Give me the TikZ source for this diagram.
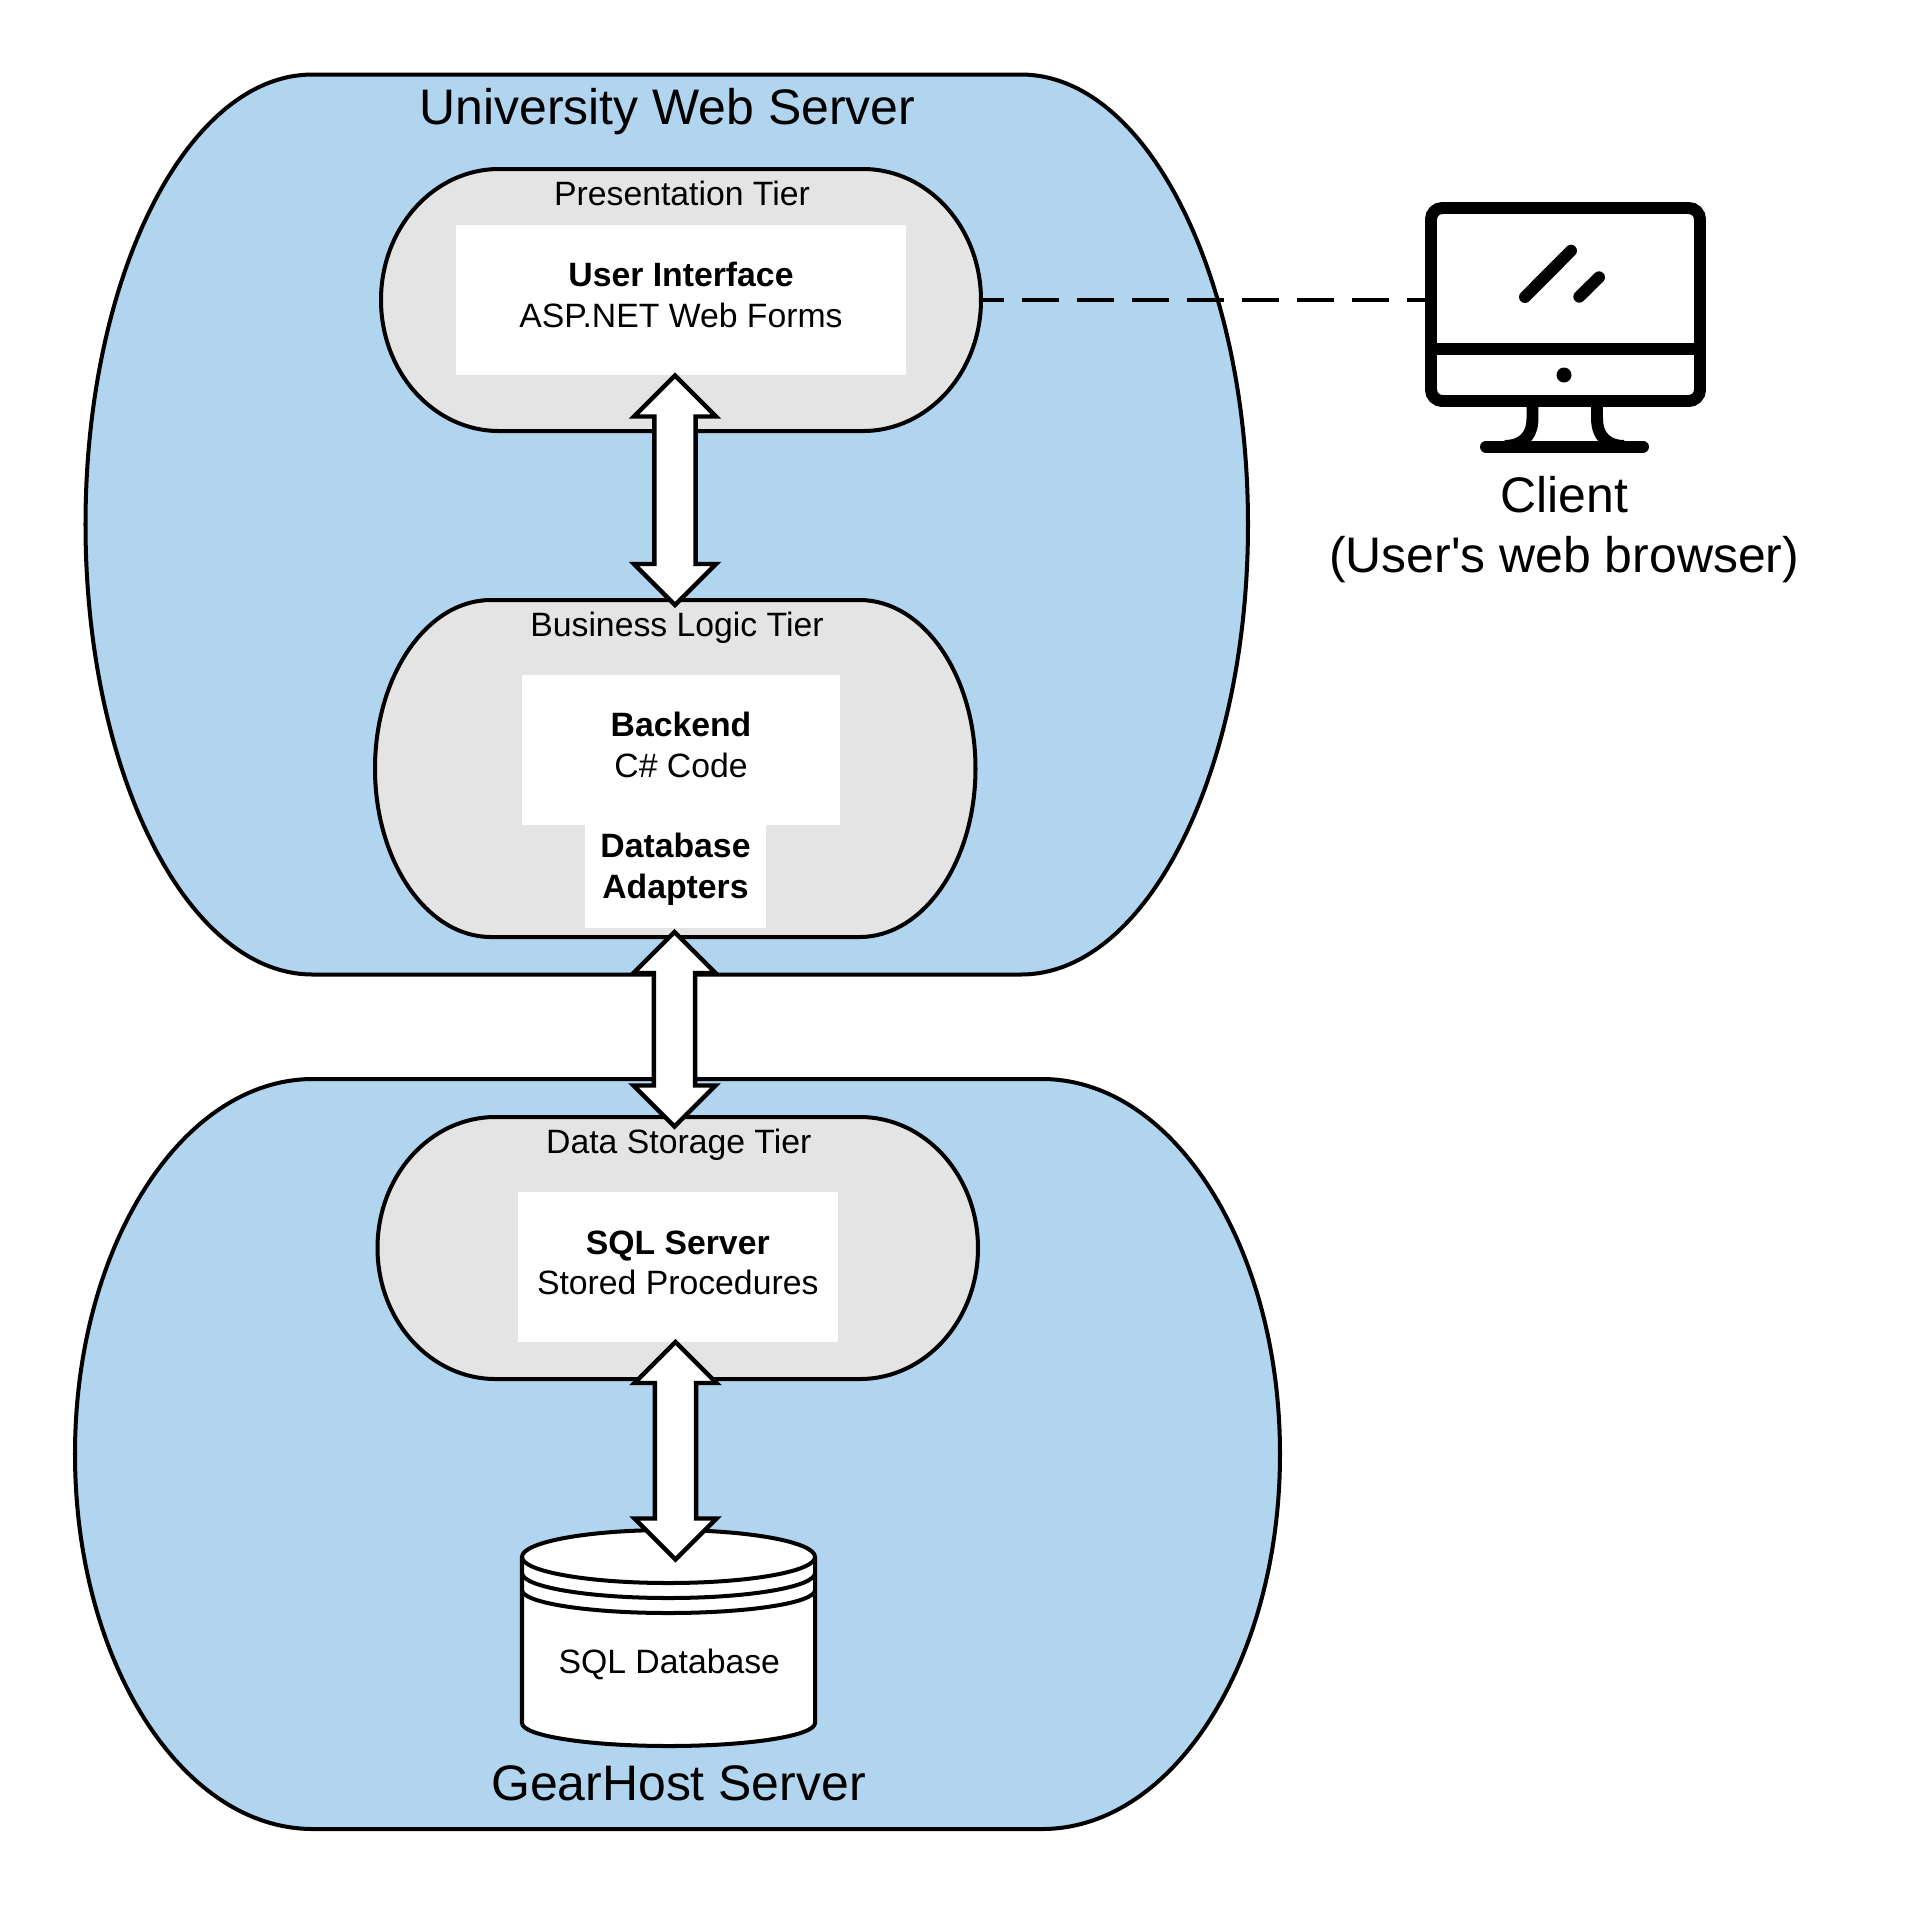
\documentclass[tikz,border=0pt]{standalone}
\usepackage{fontspec}
\setmainfont{Liberation Sans}
\newfontfamily\plainsans{Liberation Sans}
\usetikzlibrary{calc,fit,positioning}
\definecolor{serverblue}{HTML}{B1D4EF}
\definecolor{tiergray}{HTML}{E4E4E4}
\newcommand{\blob}[7]{%
  \pgfmathsetmacro{\blobry}{(#5-#3)/2}
  \node[fit={(#2,#3)(#4,#5)},inner sep=0pt] (#1) {};
  \draw[#7] ({#2+#6},#3) -- ({#4-#6},#3)
    arc[start angle=-90,end angle=90,x radius=#6,y radius=\blobry]
    -- ({#2+#6},#5)
    arc[start angle=90,end angle=270,x radius=#6,y radius=\blobry] -- cycle;
}
\newcommand{\fatarrow}[2]{%
  \draw[fat] (#1) -- ++(41,41) -- ++(-20.4,0) -- ($(#2)+(20.6,-41)$) -- ++(20.4,0)
    -- (#2) -- ++(-41,-41) -- ++(20.4,0) -- ($(#1)+(-20.6,41)$) -- ++(-20.4,0) -- cycle;
}
\begin{document}
\begin{tikzpicture}[x=0.01cm,y=-0.01cm,
      outline/.style={draw=black,line width=1.14pt},
      server/.style={outline,fill=serverblue},
      tier/.style={outline,fill=tiergray},
      fat/.style={draw=black,line width=1.25pt,fill=white,miter limit=10},
      whitebox/.style={fill=white,inner sep=0pt},
      boxtext/.style={inner sep=0pt,align=center,font=\fontsize{9.6}{11.5}\selectfont},
      small/.style={anchor=base,inner sep=0pt,font=\fontsize{9.6}{11.5}\selectfont},
      big/.style={anchor=base,inner sep=0pt,font=\fontsize{14.2}{17}\selectfont},
      clientlink/.style={draw=black,line width=1.25pt,
        dash pattern=on 10.5pt off 5.15pt,dash phase=4.27pt},
      icon/.style={draw=black,line width=3.4pt}]
  \useasboundingbox (0,0) rectangle (1926,1905);

  \blob{web}{85.5}{74.5}{1248}{974.5}{227}{server}
  \blob{gear}{75}{1079}{1280}{1829}{238}{server}
  \blob{pres}{381}{169}{981}{431}{118}{tier}
  \blob{logic}{375}{600}{975.5}{937}{116}{tier}
  \blob{data}{377.5}{1117}{978}{1379}{118}{tier}

  \node[whitebox,fit={(456,225)(906,375)}] (uiBox) {};
  \node[whitebox,fit={(585,825)(766,928)}] (adapterBox) {};
  \node[whitebox,fit={(522,675)(840,825)}] (backendBox) {};
  \node[whitebox,fit={(518,1191.5)(837.5,1341.5)}] (sqlBox) {};
  \node[boxtext] (uiText) at ([yshift=1.4pt]uiBox.center)
    {\textbf{User Interface}\\ASP.NET Web Forms};
  \node[boxtext] (backendText) at ([yshift=1.4pt]backendBox.center)
    {\textbf{Backend}\\C\# Code};
  \node[boxtext] (adapterText) at ([yshift=2pt]adapterBox.center)
    {\textbf{Database}\\\textbf{Adapters}};
  \node[boxtext] (sqlText) at ([yshift=1.05pt]sqlBox.center)
    {\textbf{SQL Server}\\Stored Procedures};

  \draw[outline,fill=white] (522,1557) arc[start angle=180,end angle=360,x radius=146.5,y radius=27]
    -- (815,1723) arc[start angle=0,end angle=180,x radius=146.5,y radius=23] -- cycle;
  \draw[outline] (522,1557) arc[start angle=180,end angle=0,x radius=146.5,y radius=26];
  \draw[outline] (522,1573) arc[start angle=180,end angle=0,x radius=146.5,y radius=25];
  \draw[outline] (522,1590) arc[start angle=180,end angle=0,x radius=146.5,y radius=23];
  \node[small] (dbLabel) at (669.3,1673) {SQL Database};

  \coordinate (uiTip) at (675,375.5);
  \coordinate (logicTip) at (675,605);
  \coordinate (adapterTip) at (674.5,932);
  \coordinate (dataTip) at (674.5,1126.5);
  \coordinate (sqlTip) at (675.5,1342);
  \coordinate (dbTip) at (675.5,1559.5);
  \fatarrow{uiTip}{logicTip}
  \fatarrow{adapterTip}{dataTip}
  \fatarrow{sqlTip}{dbTip}

  \node[big] (webLabel) at (667.5,124.7) {University Web Server};
  \node[big] (gearLabel) at (678.5,1800) {GearHost Server};
  \node[small] (presLabel) at (682,205) {Presentation Tier};
  \node[small] (logicLabel) at (677,636) {Business Logic Tier};
  \node[small] (dataLabel) at (678.8,1153.4) {Data Storage Tier};

  \node[fit={(1431,208)(1700,392)},inner sep=0pt] (monitor) {};
  \draw[clientlink] (pres.east) -- (pres.east -| monitor.west);
  \draw[icon,fill=white,rounded corners=3.2pt] (1431,208) rectangle (1700,401);
  \draw[icon] (1431,349) -- (1700,349);
  \fill (1564,375) circle[radius=7.5];
  \draw[icon,line cap=round] (1525,297) -- (1571,250.7);
  \draw[icon,line cap=round] (1579.3,296.7) -- (1599,277.3);
  \draw[icon] (1532.5,401) -- (1532.5,418) .. controls (1532.5,438) and (1520,446) .. (1505,446);
  \draw[icon] (1597,401) -- (1597,418) .. controls (1597,438) and (1609,446) .. (1624,446);
  \draw[icon,line cap=round] (1486,446.7) -- (1643,446.7);
  \node[big] (clientLabel) at (1564.2,512.3) {Client};
  \node[big] (browserLabel) at (1564.2,572.9) {\plainsans (User's web browser)};
\end{tikzpicture}
\end{document}
